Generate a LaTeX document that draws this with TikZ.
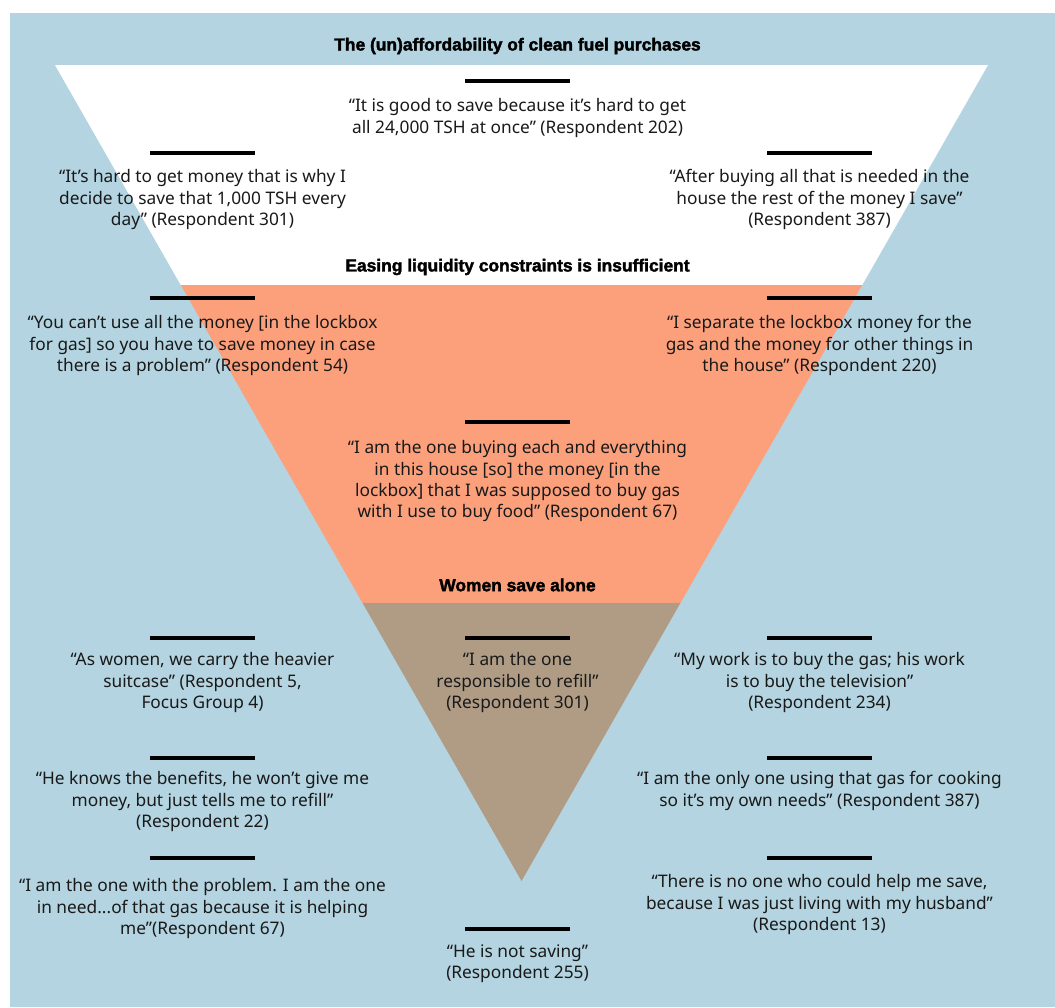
\documentclass[tikz,border=0pt]{standalone}
\usepackage{fontspec}
\setmainfont{Noto Sans}
\newfontfamily\headfont{Liberation Sans}[BoldFeatures={FakeBold=2}]
\usetikzlibrary{calc}
\definecolor{bgblue}{RGB}{179,212,224}
\definecolor{bandorange}{RGB}{252,160,124}
\definecolor{bandbrown}{RGB}{176,156,132}
\definecolor{inkc}{RGB}{25,25,25}
\begin{document}
\begin{tikzpicture}[x=1pt,y=-1pt,
  quote/.style={align=center, font=\fontsize{17.3}{21.3}\selectfont, inner sep=0pt, anchor=north, text=inkc},
  head/.style={font=\headfont\bfseries\fontsize{17.4}{19}\selectfont, inner sep=0pt, text=black},
  bar/.style={line width=4pt, draw=black}]
\useasboundingbox (0,0) rectangle (1055,1007);
\fill[bgblue] (10,13) rectangle (1055,1007);
% funnel
\coordinate (TL) at (55,65);
\coordinate (TR) at (988,65);
\coordinate (AP) at (521.5,881);
\coordinate (L1) at ($(TL)!0.2696!(AP)$);
\coordinate (R1) at ($(TR)!0.2696!(AP)$);
\coordinate (L2) at ($(TL)!0.6593!(AP)$);
\coordinate (R2) at ($(TR)!0.6593!(AP)$);
\fill[white] (TL) -- (TR) -- (R1) -- (L1) -- cycle;
\fill[bandorange] (L1) -- (R1) -- (R2) -- (L2) -- cycle;
\fill[bandbrown] (L2) -- (R2) -- (AP) -- cycle;
% headings
\node[head] (h1) at (517.5,46) {The (un)affordability of clean fuel purchases};
\node[head] (h2) at (517.5,267) {Easing liquidity constraints is insufficient};
\node[head] (h3) at (517.5,585) {Women save alone};
% bars
\draw[bar] (465,81) -- (570,81);
\draw[bar] (150,153) -- (255,153);
\draw[bar] (767,153) -- (872,153);
\draw[bar] (150,298) -- (255,298);
\draw[bar] (767,298) -- (872,298);
\draw[bar] (465,422) -- (570,422);
\draw[bar] (150,638) -- (255,638);
\draw[bar] (465,638) -- (570,638);
\draw[bar] (767,638) -- (872,638);
\draw[bar] (150,758) -- (255,758);
\draw[bar] (767,758) -- (872,758);
\draw[bar] (150,858) -- (255,858);
\draw[bar] (767,858) -- (872,858);
\draw[bar] (465,929) -- (570,929);
% quotes
\node[quote] (q1) at (517.5,98.5) {“It is good to save because it’s hard to get\\all 24,000 TSH at once” (Respondent 202)};
\node[quote] (q2) at (202.5,169.5) {“It’s hard to get money that is why I\\decide to save that 1,000 TSH every\\day” (Respondent 301)};
\node[quote] (q3) at (819.5,169.5) {“After buying all that is needed in the\\house the rest of the money I save”\\(Respondent 387)};
\node[quote] (q4) at (202.5,315.5) {“You can’t use all the money [in the lockbox\\for gas] so you have to save money in case\\there is a problem” (Respondent 54)};
\node[quote] (q5) at (819.5,315.5) {“I separate the lockbox money for the\\gas and the money for other things in\\the house” (Respondent 220)};
\node[quote] (q6) at (517.5,440.5) {“I am the one buying each and everything\\in this house [so] the money [in the\\lockbox] that I was supposed to buy gas\\with I use to buy food” (Respondent 67)};
\node[quote] (q7) at (202.5,652.5) {“As women, we carry the heavier\\suitcase” (Respondent 5,\\Focus Group 4)};
\node[quote] (q8) at (517.5,652.5) {“I am the one\\responsible to refill”\\(Respondent 301)};
\node[quote] (q9) at (819.5,652.5) {“My work is to buy the gas; his work\\is to buy the television”\\(Respondent 234)};
\node[quote] (q10) at (202.5,771.5) {“He knows the benefits, he won’t give me\\money, but just tells me to refill”\\(Respondent 22)};
\node[quote] (q11) at (819.5,771.5) {“I am the only one using that gas for cooking\\so it’s my own needs” (Respondent 387)};
\node[quote] (q12) at (202.5,878.5) {“I am the one with the problem. I am the one\\in need...of that gas because it is helping\\me”(Respondent 67)};
\node[quote] (q13) at (819.5,874.5) {“There is no one who could help me save,\\because I was just living with my husband”\\(Respondent 13)};
\node[quote] (q14) at (517.5,944.5) {“He is not saving”\\(Respondent 255)};
\end{tikzpicture}
\end{document}
